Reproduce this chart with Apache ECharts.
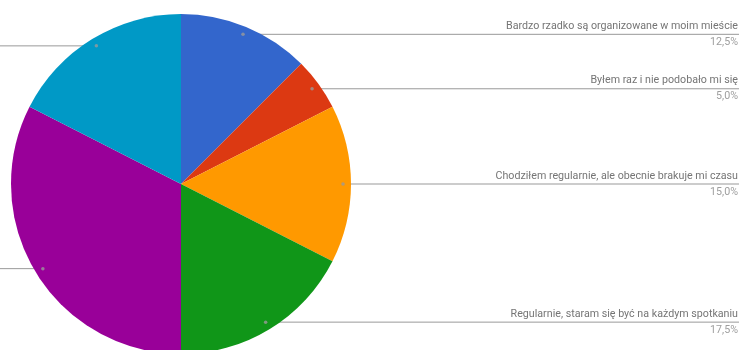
<!DOCTYPE html>
<html>
<head>
<meta charset="utf-8">
<script src="https://cdn.jsdelivr.net/npm/echarts@6/dist/echarts.min.js"></script>
<style>
  html, body { margin: 0; padding: 0; background: #fff; }
  #chart { width: 739px; height: 350px; }
</style>
</head>
<body>
<div id="chart"></div>
<script>
// Survey answers, clockwise from the top of the pie
const categories = [
  'Bardzo rzadko są organizowane w moim mieście',
  'Byłem raz i nie podobało mi się',
  'Chodziłem regularnie, ale obecnie brakuje mi czasu',
  'Regularnie, staram się być na każdym spotkaniu',
  'Nigdy nie byłem, ale chciałbym spróbować',
  'Nie interesują mnie takie wydarzenia'
];
const shares = [12.5, 5.0, 15.0, 17.5, 32.5, 17.5];
const colors = ['#3366cc', '#dc3912', '#ff9900', '#109618', '#990099', '#0099c6'];

const CX = 181, CY = 184, R = 170;
const ANCHOR = 0.953; // label anchor as a fraction of the radius
const W = 739;

const total = shares.reduce((a, b) => a + b, 0);
const midShares = [];
let acc = 0;
shares.forEach(v => { midShares.push(acc + v / 2); acc += v; });

const fmt = v => v.toFixed(1).replace('.', ',') + '%';

const chart = echarts.init(document.getElementById('chart'), null, { renderer: 'canvas' });

chart.setOption({
  animation: false,
  polar: { center: [CX, CY], radius: R },
  angleAxis: { type: 'value', min: 0, max: total, startAngle: 90, clockwise: true, show: false },
  radiusAxis: { type: 'value', min: 0, max: 1, show: false },
  series: [
    {
      type: 'pie',
      center: [CX, CY],
      radius: [0, R],
      startAngle: 90,
      clockwise: true,
      silent: true,
      data: categories.map((n, i) => ({ name: n, value: shares[i], itemStyle: { color: colors[i] } })),
      itemStyle: { borderWidth: 0 },
      label: {
        show: true,
        position: 'outside',
        formatter: p => '{n|' + p.name + '}\n{p|' + fmt(p.value) + '}',
        rich: {
          n: { fontFamily: 'Roboto', fontSize: 10.7, color: '#757575', lineHeight: 16 },
          p: { fontFamily: 'Roboto', fontSize: 10.7, color: '#9e9e9e', lineHeight: 16 }
        }
      },
      labelLine: { show: true, lineStyle: { color: '#999999', width: 1 } },
      labelLayout: params => {
        const i = params.dataIndex;
        const a = midShares[i] / total * Math.PI * 2;
        const ax = CX + R * ANCHOR * Math.sin(a);
        const ay = CY - R * ANCHOR * Math.cos(a);
        const right = Math.sin(a) >= 0;
        const ex = right ? W : 0;
        return {
          x: right ? W - 1 : -1,
          y: ay,
          align: 'right',
          verticalAlign: 'middle',
          labelLinePoints: [[ax, ay], [ex, ay], [ex, ay]]
        };
      }
    },
    {
      type: 'scatter',
      coordinateSystem: 'polar',
      silent: true,
      symbol: 'circle',
      symbolSize: 3.5,
      itemStyle: { color: '#9a9a9a' },
      data: midShares.map(m => [ANCHOR, m]),
      z: 5
    }
  ]
});
</script>
</body>
</html>
